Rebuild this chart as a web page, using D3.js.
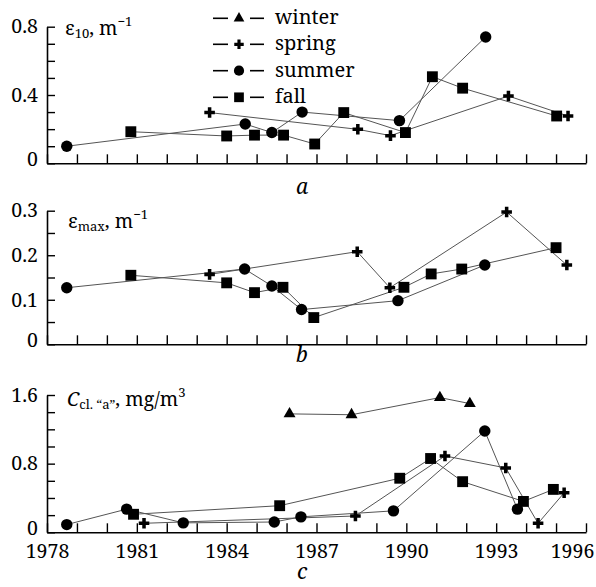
<!DOCTYPE html>
<html>
<head>
<meta charset="utf-8">
<script src="https://cdn.jsdelivr.net/npm/d3@7"></script>
<style>
  body { margin: 0; background: #fff; }
</style>
</head>
<body>
<div class="chart"></div>
<script>
var svgWidth = 596;
var svgHeight = 587;
var serif = "'Noto Serif', 'Liberation Serif', serif";

// years on the shared x axis
var yearTicks = d3.range(1978, 1997);
var yearLabels = [1978, 1981, 1984, 1987, 1990, 1993, 1996];

// panel a: eps10, m^-1   [year, value]
var springA = [[1983.43, 0.297], [1988.38, 0.199], [1989.47, 0.162], [1993.41, 0.394], [1995.40, 0.277]];
var summerA = [[1978.66, 0.10], [1984.62, 0.23], [1985.51, 0.18], [1986.52, 0.30], [1989.77, 0.25], [1992.65, 0.74]];
var fallA = [[1980.8, 0.185], [1984.0, 0.16], [1984.93, 0.165], [1985.9, 0.165], [1986.94, 0.113], [1987.91, 0.297],
  [1989.97, 0.18], [1990.87, 0.507], [1991.88, 0.44], [1995.02, 0.277]];

// panel b: eps max, m^-1
var springB = [[1983.43, 0.157], [1988.36, 0.208], [1989.45, 0.127], [1993.35, 0.297], [1995.36, 0.178]];
var summerB = [[1978.66, 0.127], [1984.6, 0.169], [1985.51, 0.131], [1986.5, 0.078], [1989.72, 0.098], [1992.62, 0.178]];
var fallB = [[1980.8, 0.155], [1984.0, 0.138], [1984.93, 0.116], [1985.88, 0.128], [1986.91, 0.06], [1989.92, 0.128],
  [1990.83, 0.158], [1991.85, 0.169], [1995.0, 0.217]];

// panel c: C chl "a", mg/m3
var winterC = [[1986.1, 1.38], [1988.17, 1.37], [1991.12, 1.57], [1992.12, 1.50]];
var springC = [[1981.24, 0.105], [1988.30, 0.19], [1991.29, 0.89], [1993.32, 0.75], [1994.40, 0.105], [1995.27, 0.46]];
var summerC = [[1978.66, 0.09], [1980.66, 0.27], [1982.55, 0.11], [1985.59, 0.12], [1986.48, 0.18], [1989.57, 0.25],
  [1992.62, 1.18], [1993.71, 0.27]];
var fallC = [[1980.89, 0.21], [1985.77, 0.31], [1989.78, 0.63], [1990.81, 0.86], [1991.88, 0.59], [1993.91, 0.36], [1994.91, 0.50]];

// y ticks
var ticksA = [0, 0.1, 0.2, 0.3, 0.4, 0.5, 0.6, 0.7, 0.8];
var labelsA = [0, 0.4, 0.8];
var ticksB = [0, 0.05, 0.1, 0.15, 0.2, 0.25, 0.3];
var labelsB = [0, 0.1, 0.2, 0.3];
var ticksC = [0, 0.2, 0.4, 0.6, 0.8, 1.0, 1.2, 1.4, 1.6];
var labelsC = [0, 0.8, 1.6];

var seasons = ["winter", "spring", "summer", "fall"];

var svg = d3.select(".chart")
  .append("svg")
  .attr("width", svgWidth)
  .attr("height", svgHeight)
  .style("font-family", serif);

var xScale = d3.scaleLinear()
  .domain([1978, 1996])
  .range([47, 586]);

var symbolType = {
  winter: d3.symbolTriangle,
  spring: d3.symbolCross,
  summer: d3.symbolCircle,
  fall: d3.symbolSquare
};
var symbolSize = { winter: 62, spring: 62, summer: 102, fall: 118 };

function fmt(d) {
  return d === 0 ? "0" : d3.format(".1f")(d);
}

function drawPanel(cfg) {
  var y = d3.scaleLinear().domain(cfg.domain).range(cfg.range);
  var g = svg.append("g");

  // x axis, ticks pointing up
  var xAxis = d3.axisBottom(xScale)
    .tickValues(yearTicks)
    .tickSize(-9)
    .tickSizeOuter(0)
    .tickPadding(12)
    .tickFormat(d => (cfg.xLabels && yearLabels.indexOf(d) >= 0) ? d : "");
  var xg = g.append("g")
    .attr("transform", `translate(0, ${cfg.range[0]})`)
    .call(xAxis);
  // last label sits inside the frame, as in the print
  xg.selectAll(".tick text").filter(d => d === 1996).attr("dx", -14);

  // y axis, ticks pointing right
  var yAxis = d3.axisLeft(y)
    .tickValues(cfg.ticks)
    .tickSize(-8)
    .tickSizeOuter(0)
    .tickPadding(9)
    .tickFormat(d => cfg.labels.some(l => Math.abs(l - d) < 1e-9) ? fmt(d) : "");
  var yg = g.append("g")
    .attr("transform", `translate(${xScale(1978)}, 0)`)
    .call(yAxis);
  // the zero label rides a little above the corner
  yg.selectAll(".tick text").filter(d => d === 0).attr("dy", "0.1em");

  [xg, yg].forEach(function(a) {
    a.attr("font-family", null).attr("font-size", null);
    a.selectAll("path.domain").attr("stroke", "#000").attr("stroke-width", 1.6);
    a.selectAll(".tick line").attr("stroke", "#000").attr("stroke-width", 1.4);
    a.selectAll("text").style("font-family", serif).style("font-size", "19.5px");
  });

  var line = d3.line()
    .x(d => xScale(d[0]))
    .y(d => y(d[1]));

  cfg.series.forEach(function(s) {
    g.append("path")
      .datum(s.data)
      .attr("d", line)
      .attr("fill", "none")
      .attr("stroke", "#555")
      .attr("stroke-width", 1);
  });

  cfg.series.forEach(function(s) {
    g.selectAll(null)
      .data(s.data)
      .enter()
      .append("path")
      .attr("d", d3.symbol().type(symbolType[s.season]).size(symbolSize[s.season]))
      .attr("transform", d => `translate(${xScale(d[0])}, ${y(d[1])})`)
      .attr("fill", "#000");
  });

  g.append("text")
    .attr("x", 302)
    .attr("y", cfg.letterY)
    .attr("text-anchor", "middle")
    .style("font-family", serif)
    .style("font-style", "italic")
    .style("font-size", "21px")
    .text(cfg.letter);

  return g;
}

var gA = drawPanel({
  domain: [0, 0.8], range: [163.3, 26.7], ticks: ticksA, labels: labelsA,
  series: [
    { season: "summer", data: summerA },
    { season: "fall", data: fallA },
    { season: "spring", data: springA }
  ],
  letter: "a", letterY: 194
});

var gB = drawPanel({
  domain: [0, 0.3], range: [344.3, 210.7], ticks: ticksB, labels: labelsB,
  series: [
    { season: "summer", data: summerB },
    { season: "fall", data: fallB },
    { season: "spring", data: springB }
  ],
  letter: "b", letterY: 362
});

var gC = drawPanel({
  domain: [0, 1.6], range: [532.3, 395], ticks: ticksC, labels: labelsC, xLabels: true,
  series: [
    { season: "winter", data: winterC },
    { season: "summer", data: summerC },
    { season: "fall", data: fallC },
    { season: "spring", data: springC }
  ],
  letter: "c", letterY: 579
});

// axis titles
function title(x, y) {
  return svg.append("text").attr("x", x).attr("y", y)
    .style("font-family", serif).style("font-size", "19.5px");
}

var tA = title(65, 35);
tA.append("tspan").text("ε");
tA.append("tspan").style("font-size", "13px").attr("dy", 3).text("10");
tA.append("tspan").attr("dy", -3).text(",  m");
tA.append("tspan").style("font-size", "13px").attr("dy", -9).text("−1");

var tB = title(68, 228);
tB.append("tspan").text("ε");
tB.append("tspan").style("font-size", "13px").attr("dy", 3).text("max");
tB.append("tspan").attr("dy", -3).text(",  m");
tB.append("tspan").style("font-size", "13px").attr("dy", -9).text("−1");

var tC = title(67, 406);
tC.append("tspan").style("font-style", "italic").text("C");
tC.append("tspan").style("font-size", "13px").attr("dy", 3).text("cl. “a”");
tC.append("tspan").attr("dy", -3).text(",  mg/m");
tC.append("tspan").style("font-size", "13px").attr("dy", -9).text("3");

// legend
var legend = svg.append("g");
var legendY = [18.3, 44.3, 70.7, 97.3];
seasons.forEach(function(s, i) {
  var row = legend.append("g").attr("transform", `translate(0, ${legendY[i]})`);
  row.append("line").attr("x1", 213).attr("x2", 228).attr("stroke", "#000").attr("stroke-width", 1.6);
  row.append("line").attr("x1", 250).attr("x2", 264).attr("stroke", "#000").attr("stroke-width", 1.6);
  row.append("path")
    .attr("d", d3.symbol().type(symbolType[s]).size(symbolSize[s] * 0.8))
    .attr("transform", "translate(239, 0)")
    .attr("fill", "#000");
  row.append("text")
    .attr("x", 275)
    .attr("dy", "0.3em")
    .style("font-family", serif)
    .style("font-size", "20px")
    .text(s);
});
</script>
</body>
</html>
